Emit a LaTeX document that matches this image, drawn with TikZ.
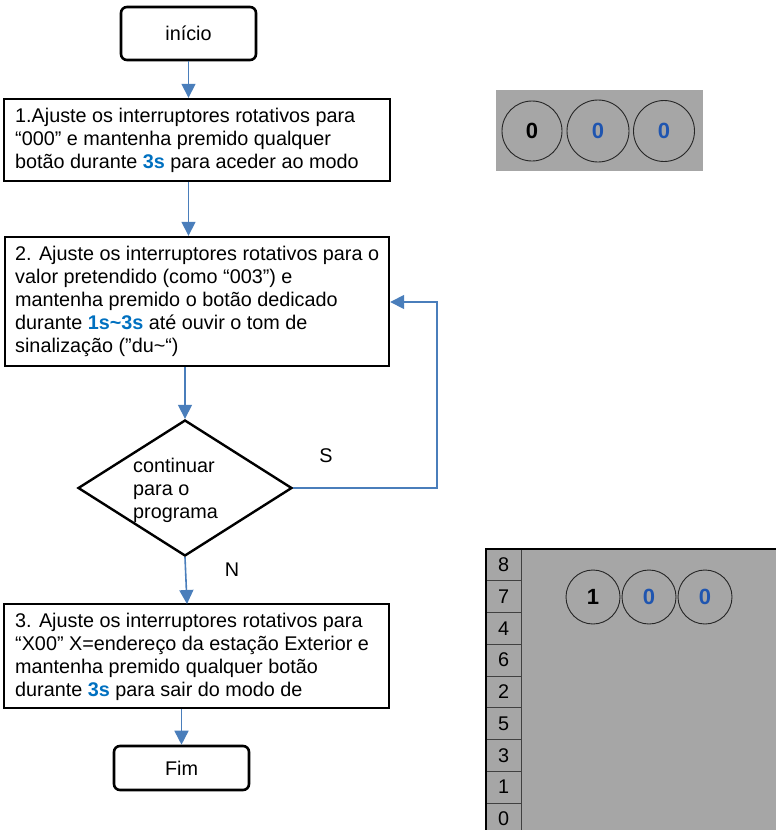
\documentclass[tikz,border=0pt]{standalone}
\usepackage{fontspec}
\setmainfont{Liberation Sans}
\usetikzlibrary{arrows.meta,shapes.geometric}
\definecolor{arrowblue}{HTML}{4A7EBB}
\definecolor{txtblue}{HTML}{0070C0}
\definecolor{digblue}{HTML}{1F55B0}
\definecolor{panelgray}{HTML}{A6A6A6}
\begin{document}
\begin{tikzpicture}[x=1pt,y=-1pt,
  font=\fontsize{19.8}{23}\selectfont,
  termbox/.style={draw, line width=2.6pt, rounded corners=6pt, inner sep=0pt},
  procbox/.style={draw, line width=2.4pt, inner sep=0pt},
  boxtext/.style={anchor=west, align=left, inner sep=0pt},
  flow/.style={draw=arrowblue, line width=1.6pt, -{Triangle[length=14pt,width=14pt]}},
  dial/.style={circle, draw=black!85, line width=0.9pt, minimum size=#1, inner sep=0pt, font=\fontsize{22}{24}\selectfont\bfseries},
  cell/.style={draw=black!75, line width=0.8pt, fill=panelgray, minimum width=35pt, minimum height=31.75pt, inner sep=0pt, outer sep=0pt, anchor=north west}
]
\useasboundingbox (0,0) rectangle (776,830);

% start
\node[termbox, minimum width=135pt, minimum height=53pt] (start) at (188.5,33.5) {início};

% box 1
\node[procbox, minimum width=386pt, minimum height=82pt] (b1) at (197,140) {};
\node[boxtext] (t1) at (15,140) {1.Ajuste os interruptores rotativos para\\“000” e mantenha premido qualquer\\botão durante \textcolor{txtblue}{\bfseries 3s} para aceder ao modo};

% box 2
\node[procbox, minimum width=384pt, minimum height=129pt] (b2) at (197,301.5) {};
\node[boxtext] (t2) at (15,301.5) {2. Ajuste os interruptores rotativos para o\\valor pretendido (como “003”) e\\mantenha premido o botão dedicado\\durante \textcolor{txtblue}{\bfseries 1s\textasciitilde3s} até ouvir o tom de\\sinalização ("du\textasciitilde“)};

% decision
\node[diamond, draw, line width=2.4pt, minimum width=214pt, minimum height=136pt, inner sep=0pt, shape aspect=1.57] (dec) at (185,488) {};
\node[boxtext] (dt) at (133,490) {continuar\\para o\\programa};

% box 3
\node[procbox, minimum width=385pt, minimum height=104pt] (b3) at (196.5,656) {};
\node[boxtext] (t3) at (15,656.5) {3. Ajuste os interruptores rotativos para\\“X00” X=endereço da estação Exterior e\\mantenha premido qualquer botão\\durante \textcolor{txtblue}{\bfseries 3s} para sair do modo de};

% end
\node[termbox, minimum width=135pt, minimum height=44pt] (fim) at (181.5,768) {Fim};

% labels
\node (S) at (326,456) {S};
\node (N) at (232,570) {N};

% connectors
\draw[flow] (start.south) -- (start.south |- b1.north);
\draw[flow] (b1.south -| start.south) -- (start.south |- b2.north);
\draw[flow] (b2.south -| dec.north) -- (dec.north);
\draw[flow] (dec.south) -- (187,604);
\draw[flow] (fim.north |- b3.south) -- (fim.north);
\coordinate (loopA) at (437,488);
\coordinate (loopB) at (437,302);
\draw[flow] (dec.east) -- (loopA) -- (loopB) -- (b2.east |- loopB);

% top panel
\fill[panelgray] (496,90) rectangle (703,171);
\node[dial=60pt] (d1) at (532,131) {0};
\node[dial=62pt, text=digblue] (d2) at (598,131) {0};
\node[dial=61pt, text=digblue] (d3) at (664,131) {0};

% bottom panel
\fill[panelgray] (486,549) rectangle (790,840);
\node[cell] (c8) at (486,549) {8};
\node[cell] (c7) at (c8.south west) {7};
\node[cell] (c4) at (c7.south west) {4};
\node[cell] (c6) at (c4.south west) {6};
\node[cell] (c2) at (c6.south west) {2};
\node[cell] (c5) at (c2.south west) {5};
\node[cell] (c3) at (c5.south west) {3};
\node[cell] (c1) at (c3.south west) {1};
\node[cell] (c0) at (c1.south west) {0};
\draw[line width=2pt] (486,845) -- (486,549) -- (790,549);
\node[dial=54pt] (e1) at (593,597) {1};
\node[dial=54pt, text=digblue] (e2) at (649,597) {0};
\node[dial=54pt, text=digblue] (e3) at (705,597) {0};
\end{tikzpicture}
\end{document}
